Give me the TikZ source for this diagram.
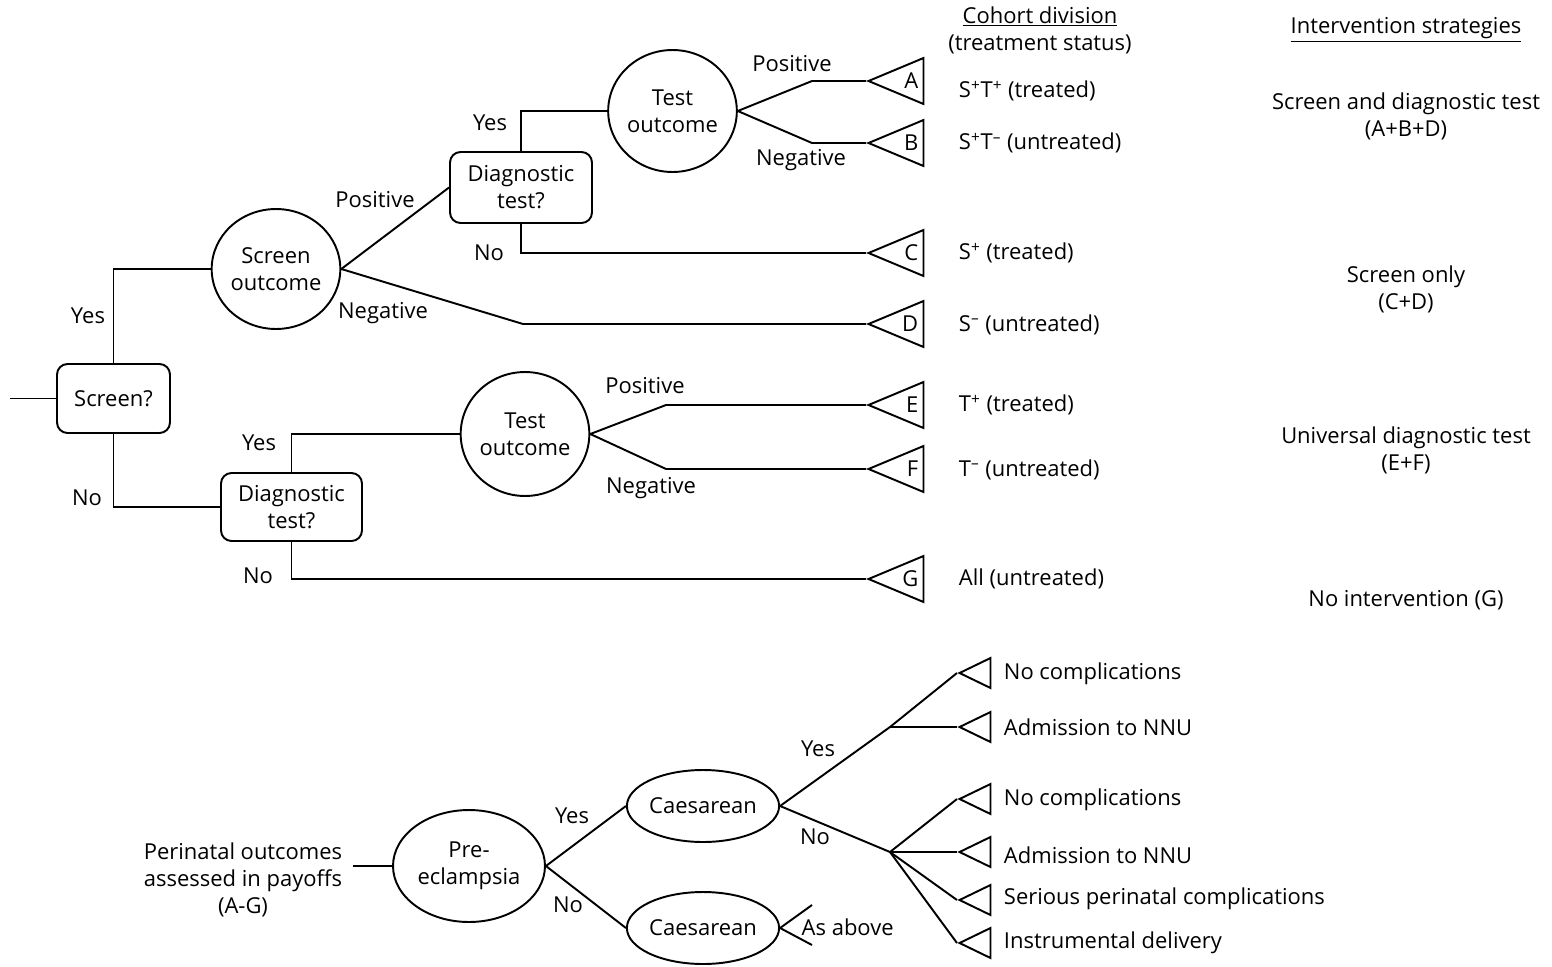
\documentclass[tikz,border=0pt]{standalone}
\usepackage{fontspec}
\setmainfont{Open Sans}
\usetikzlibrary{positioning, shapes.geometric, calc}

\begin{document}
\begin{tikzpicture}[
    x=0.02cm, y=-0.02cm,
    line width=1.1pt,
    font=\fontsize{12.5}{15.4}\selectfont,
    box/.style={rectangle, draw, rounded corners=6pt, align=center, inner sep=0pt},
    chance/.style={ellipse, draw, align=center, inner sep=0pt},
    leaf/.style={isosceles triangle, shape border rotate=180, isosceles triangle stretches, draw, inner sep=0pt, minimum width=0.92cm, minimum height=1.1cm, anchor=apex},
    tip/.style={isosceles triangle, shape border rotate=180, isosceles triangle stretches, draw, inner sep=0pt, minimum width=0.6cm, minimum height=0.62cm, anchor=apex},
    lbl/.style={inner sep=1pt},
    res/.style={anchor=west, inner sep=0pt},
    strat/.style={align=center, inner sep=0pt}
]
    \useasboundingbox (0,0) rectangle (1552,967);

    % decision tree
    \node[box, minimum width=2.26cm, minimum height=1.38cm] (screen) at (113.5,398.5) {Screen?};
    \node[chance, minimum width=2.52cm, minimum height=2.4cm] (scrout) at (276,269) {Screen\\outcome};
    \node[box, minimum width=2.84cm, minimum height=1.42cm] (diag1) at (521,187.5) {Diagnostic\\test?};
    \node[chance, minimum width=2.46cm, minimum height=2.44cm] (tout1) at (672.5,111) {Test\\outcome};
    \node[box, minimum width=2.82cm, minimum height=1.36cm] (diag2) at (291.5,507) {Diagnostic\\test?};
    \node[chance, minimum width=2.52cm, minimum height=2.48cm] (tout2) at (525,434) {Test\\outcome};

    \node[leaf, label={[anchor=east, inner sep=3pt]east:A}] (tA) at (866,81) {};
    \node[leaf, label={[anchor=east, inner sep=3pt]east:B}] (tB) at (866,143) {};
    \node[leaf, label={[anchor=east, inner sep=3pt]east:C}] (tC) at (866,253) {};
    \node[leaf, label={[anchor=east, inner sep=3pt]east:D}] (tD) at (866,324) {};
    \node[leaf, label={[anchor=east, inner sep=3pt]east:E}] (tE) at (866,405) {};
    \node[leaf, label={[anchor=east, inner sep=3pt]east:F}] (tF) at (866,469) {};
    \node[leaf, label={[anchor=east, inner sep=3pt]east:G}] (tG) at (866,579) {};

    \coordinate (start) at (10,398.5);
    \coordinate (kA) at (812,81);
    \coordinate (kB) at (812,143);
    \coordinate (kD) at (523,324);
    \coordinate (kE) at (666,405);
    \coordinate (kF) at (666,469);

    \draw (start) -- (screen.west);
    \draw (screen.north) |- (scrout.west);
    \draw (screen.south) |- (diag2.west);
    \draw (scrout.east) -- (diag1.west);
    \draw (scrout.east) -- (kD) -- (tD.apex);
    \draw (diag1.north) |- (tout1.west);
    \draw (diag1.south) |- (tC.apex);
    \draw (tout1.east) -- (kA) -- (tA.apex);
    \draw (tout1.east) -- (kB) -- (tB.apex);
    \draw (diag2.north) |- (tout2.west);
    \draw (diag2.south) |- (tG.apex);
    \draw (tout2.east) -- (kE) -- (tE.apex);
    \draw (tout2.east) -- (kF) -- (tF.apex);

    \node[lbl] (yes1) at (88,316) {Yes};
    \node[lbl] (no1) at (87,498) {No};
    \node[lbl] (pos1) at (375,200) {Positive};
    \node[lbl] (neg1) at (383,313) {Negative};
    \node[lbl] (yes2) at (490,123) {Yes};
    \node[lbl] (no2) at (489,253) {No};
    \node[lbl] (pos2) at (792,64) {Positive};
    \node[lbl] (neg2) at (801,160) {Negative};
    \node[lbl] (yes3) at (259,443) {Yes};
    \node[lbl] (no3) at (258,576) {No};
    \node[lbl] (pos3) at (645,386) {Positive};
    \node[lbl] (neg3) at (651,488) {Negative};

    % cohort division
    \node[strat] (cohort) at (1040,30) {\underline{Cohort division}\\(treatment status)};
    \node[res] (rA) at (958,91) {S\textsuperscript{+}T\textsuperscript{+} (treated)};
    \node[res] (rB) at (958,143) {S\textsuperscript{+}T\textsuperscript{--} (untreated)};
    \node[res] (rC) at (958,253) {S\textsuperscript{+} (treated)};
    \node[res] (rD) at (958,325) {S\textsuperscript{--} (untreated)};
    \node[res] (rE) at (958,405) {T\textsuperscript{+} (treated)};
    \node[res] (rF) at (958,470) {T\textsuperscript{--} (untreated)};
    \node[res] (rG) at (958,579) {All (untreated)};

    % intervention strategies
    \node[strat] (interv) at (1406,30) {\underline{Intervention strategies}};
    \node[strat] (sdt) at (1406,116) {Screen and diagnostic test\\(A+B+D)};
    \node[strat] (sonly) at (1406,289) {Screen only\\(C+D)};
    \node[strat] (udt) at (1406,450) {Universal diagnostic test\\(E+F)};
    \node[strat] (noint) at (1406,600) {No intervention (G)};

    % perinatal outcomes
    \node[strat] (payoff) at (243,880) {Perinatal outcomes\\assessed in payoffs\\(A-G)};
    \node[chance, minimum width=3.04cm, minimum height=2.24cm] (pre) at (469,866) {Pre-\\eclampsia};
    \node[chance, minimum width=2.92cm, minimum height=1.44cm] (ces1) at (703,806) {Caesarean};
    \node[chance, minimum width=2.92cm, minimum height=1.44cm] (ces2) at (703,928) {Caesarean};

    \node[tip] (o1) at (957,673) {};
    \node[tip] (o2) at (957,727) {};
    \node[tip] (o3) at (957,799) {};
    \node[tip] (o4) at (957,852) {};
    \node[tip] (o5) at (957,900) {};
    \node[tip] (o6) at (957,943) {};

    \coordinate (ky) at (890,727);
    \coordinate (kn) at (890,852);
    \coordinate (as1) at (812,905);
    \coordinate (as2) at (812,945);

    \draw (payoff.east |- pre.west) ++(10,0) coordinate (pstub) -- (pre.west);
    \draw (pre.east) -- (ces1.west);
    \draw (pre.east) -- (ces2.west);
    \draw (ces1.east) -- (ky) -- (o1.apex);
    \draw (ky) -- (o2.apex);
    \draw (ces1.east) -- (kn) -- (o3.apex);
    \foreach \o in {o4, o5, o6}
        \draw (kn) -- (\o.apex);
    \draw (as1) -- (ces2.east) -- (as2);

    \node[lbl] (yes4) at (572,816) {Yes};
    \node[lbl] (no4) at (568,905) {No};
    \node[lbl] (yes5) at (818,749) {Yes};
    \node[lbl] (no5) at (815,837) {No};
    \node[lbl, anchor=west] (asab) at (799,927) {As above};

    \node[res] (c1) at (1003,674) {No complications};
    \node[res] (c2) at (1003,727) {Admission to NNU};
    \node[res] (c3) at (1003,800) {No complications};
    \node[res] (c4) at (1003,855) {Admission to NNU};
    \node[res] (c5) at (1003,899) {Serious perinatal complications};
    \node[res] (c6) at (1003,943) {Instrumental delivery};
\end{tikzpicture}
\end{document}
